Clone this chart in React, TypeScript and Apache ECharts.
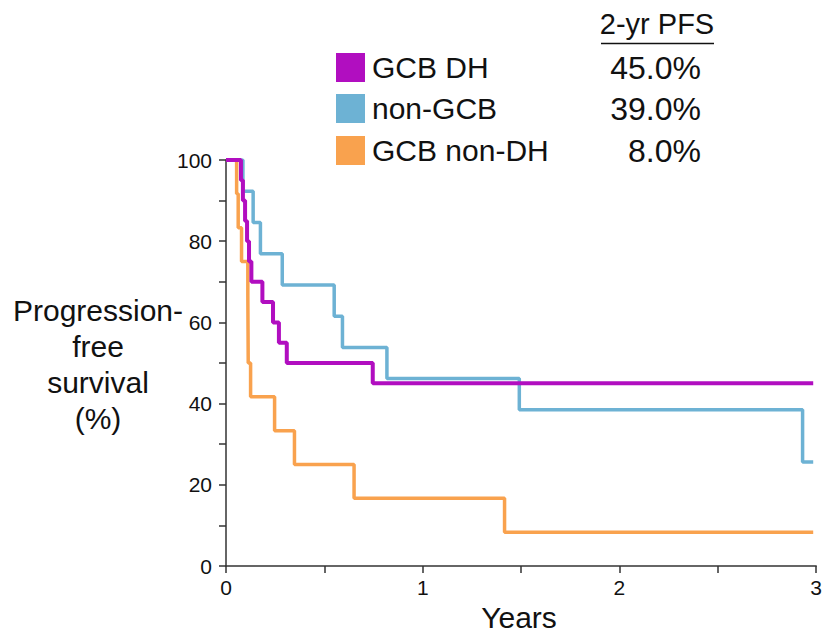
import React, { useEffect, useRef } from "react";
import * as echarts from "echarts";

// Kaplan-Meier step data: drop times (years) and survival level after each drop (%)
const gcbDhTimes = [0, 0.076, 0.086, 0.097, 0.107, 0.117, 0.129, 0.185, 0.239, 0.269, 0.309, 0.746, 2.985];
const gcbDhSurv = [100, 95, 90, 85, 80, 75, 70, 65, 60, 55, 50, 45, 45];

const nonGcbTimes = [0, 0.086, 0.138, 0.175, 0.286, 0.55, 0.592, 0.818, 1.491, 2.931, 2.985];
const nonGcbSurv = [100, 92.3, 84.6, 76.9, 69.2, 61.5, 53.8, 46.2, 38.5, 25.6, 25.6];

const gcbNonDhTimes = [0, 0.054, 0.062, 0.079, 0.111, 0.112, 0.113, 0.125, 0.247, 0.348, 0.651, 1.416, 2.985];
const gcbNonDhSurv = [100, 91.7, 83.3, 75, 66.7, 58.3, 50, 41.7, 33.3, 25, 16.7, 8.3, 8.3];

const legendNames = ["GCB DH", "non-GCB", "GCB non-DH"];
const pfsValues = ["45.0%", "39.0%", "8.0%"];
const pfsHeader = "2-yr PFS";
const colors = ["#B10EC0", "#6DB2D4", "#F9A24E"];
const yAxisTitle = ["Progression-", "free", "survival", "(%)"];
const xAxisTitle = "Years";

const FONT = "'Liberation Sans', Arial, Helvetica, sans-serif";

function zip(t: number[], s: number[]) {
  return t.map((v, i) => [v, s[i]]);
}

export default function App() {
  const ref = useRef<HTMLDivElement>(null);
  useEffect(() => {
    if (!ref.current) return;
    const chart = echarts.init(ref.current, null, { renderer: "svg" });
    const legendCenters = [67.5, 108.5, 150.5];
    const graphic: any[] = [];
    legendNames.forEach((name, i) => {
      graphic.push({
        type: "rect",
        shape: { x: 336, y: legendCenters[i] - 14.5, width: 29, height: 29 },
        style: { fill: colors[i] },
      });
      graphic.push({
        type: "text",
        x: 372,
        y: legendCenters[i],
        style: {
          text: name,
          font: `30px ${FONT}`,
          fill: "#111",
          verticalAlign: "middle",
        },
      });
      graphic.push({
        type: "text",
        x: 701,
        y: legendCenters[i],
        style: {
          text: pfsValues[i],
          font: `32px ${FONT}`,
          fill: "#111",
          align: "right",
          verticalAlign: "middle",
        },
      });
    });
    graphic.push({
      type: "text",
      x: 657,
      y: 24,
      style: {
        text: pfsHeader,
        font: `29px ${FONT}`,
        fill: "#111",
        align: "center",
        verticalAlign: "middle",
      },
    });
    graphic.push({
      type: "line",
      shape: { x1: 601, y1: 43.5, x2: 714, y2: 43.5 },
      style: { stroke: "#111", lineWidth: 1.5 },
    });
    yAxisTitle.forEach((t, i) => {
      graphic.push({
        type: "text",
        x: 98,
        y: 310 + i * 36,
        style: {
          text: t,
          font: `30px ${FONT}`,
          fill: "#111",
          align: "center",
          verticalAlign: "middle",
        },
      });
    });
    graphic.push({
      type: "text",
      x: 519,
      y: 617,
      style: {
        text: xAxisTitle,
        font: `30px ${FONT}`,
        fill: "#111",
        align: "center",
        verticalAlign: "middle",
      },
    });

    const seriesData = [
      { name: "GCB non-DH", data: zip(gcbNonDhTimes, gcbNonDhSurv), color: colors[2], width: 3.5 },
      { name: "non-GCB", data: zip(nonGcbTimes, nonGcbSurv), color: colors[1], width: 3.5 },
      { name: "GCB DH", data: zip(gcbDhTimes, gcbDhSurv), color: colors[0], width: 4 },
    ];

    chart.setOption({
      animation: false,
      backgroundColor: "#fff",
      grid: { left: 226, right: 6, top: 160, bottom: 66 },
      xAxis: {
        type: "value",
        min: 0,
        max: 3,
        interval: 0.5,
        axisLine: { show: true, lineStyle: { color: "#333", width: 1.5 } },
        axisTick: { show: true, length: 7, lineStyle: { color: "#333", width: 1.5 } },
        axisLabel: {
          margin: 11,
          color: "#111",
          fontSize: 21,
          fontFamily: FONT,
          formatter: (v: number) => (Number.isInteger(v) ? String(v) : ""),
        },
        splitLine: { show: false },
      },
      yAxis: {
        type: "value",
        min: 0,
        max: 100,
        interval: 10,
        axisLine: { show: true, lineStyle: { color: "#333", width: 1.5 } },
        axisTick: { show: true, length: 7, lineStyle: { color: "#333", width: 1.5 } },
        axisLabel: {
          margin: 14,
          color: "#111",
          fontSize: 21,
          fontFamily: FONT,
          formatter: (v: number) => (v % 20 === 0 ? String(v) : ""),
        },
        splitLine: { show: false },
      },
      series: seriesData.map((s) => ({
        type: "line",
        name: s.name,
        step: "end",
        data: s.data,
        showSymbol: false,
        symbol: "none",
        lineStyle: { color: s.color, width: s.width },
        itemStyle: { color: s.color },
      })),
      graphic,
    });
    return () => chart.dispose();
  }, []);
  return (
    <div
      ref={ref}
      style={{ position: "absolute", left: 0, top: 0, width: 825, height: 632 }}
    />
  );
}
